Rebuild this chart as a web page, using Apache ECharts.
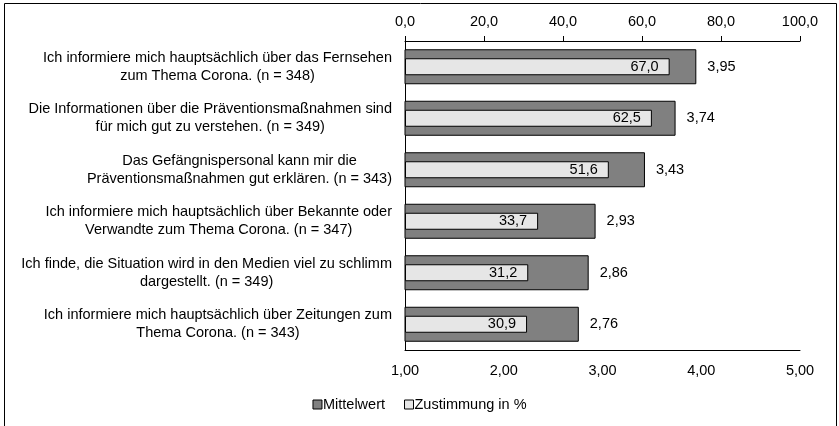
<!DOCTYPE html>
<html>
<head>
<meta charset="utf-8">
<script src="https://cdn.jsdelivr.net/npm/echarts@6/dist/echarts.min.js"></script>
<style>
  html, body { margin: 0; padding: 0; background: #fff; }
  #chart { width: 839px; height: 426px; }
</style>
</head>
<body>
<div id="chart"></div>
<script>
const categories = [
  'Ich informiere mich hauptsächlich über das Fernsehen\nzum Thema Corona. (n = 348)',
  'Die Informationen über die Präventionsmaßnahmen sind\nfür mich gut zu verstehen. (n = 349)',
  'Das Gefängnispersonal kann mir die\nPräventionsmaßnahmen gut erklären. (n = 343)',
  'Ich informiere mich hauptsächlich über Bekannte oder\nVerwandte zum Thema Corona. (n = 347)',
  'Ich finde, die Situation wird in den Medien viel zu schlimm\ndargestellt. (n = 349)',
  'Ich informiere mich hauptsächlich über Zeitungen zum\nThema Corona. (n = 343)'
];
const mittelwert = [3.95, 3.74, 3.43, 2.93, 2.86, 2.76];
const zustimmung = [67.0, 62.5, 51.6, 33.7, 31.2, 30.9];

const font = 'Liberation Sans, Arial, sans-serif';
const fs = 14.5;
const comma = (v, d) => v.toFixed(d).replace('.', ',');

const chart = echarts.init(document.getElementById('chart'), null, { renderer: 'canvas' });

const option = {
  animation: false,
  textStyle: { fontFamily: font, color: '#000' },
  graphic: [
    {
      type: 'rect',
      shape: { x: 4.5, y: 3.5, width: 832, height: 430 },
      style: { fill: 'none', stroke: '#000', lineWidth: 1 }
    }
  ],
  grid: { left: 405, right: 39, top: 41, bottom: 76 },
  legend: {
    bottom: 9,
    left: 'center',
    itemWidth: 9,
    itemHeight: 9,
    itemGap: 19,
    textStyle: { fontSize: fs, fontFamily: font, color: '#000', padding: [0, 0, 0, -4] },
    data: [
      { name: 'Mittelwert', icon: 'rect', itemStyle: { color: '#808080', borderColor: '#000', borderWidth: 1 } },
      { name: 'Zustimmung in %', icon: 'rect', itemStyle: { color: '#e6e6e6', borderColor: '#000', borderWidth: 1 } }
    ]
  },
  xAxis: [
    {
      type: 'value',
      position: 'bottom',
      min: 1,
      max: 5,
      interval: 1,
      axisLine: { show: true, lineStyle: { color: '#000' } },
      axisTick: { show: false },
      splitLine: { show: false },
      axisLabel: { fontSize: fs, color: '#000', margin: 13, formatter: v => comma(v, 2) }
    },
    {
      type: 'value',
      position: 'top',
      min: 0,
      max: 100,
      interval: 20,
      axisLine: { show: true, lineStyle: { color: '#000' } },
      axisTick: { show: true, inside: false, length: 5, lineStyle: { color: '#000' } },
      splitLine: { show: false },
      axisLabel: { fontSize: fs, color: '#000', margin: 12, formatter: v => comma(v, 1) }
    }
  ],
  yAxis: [
    {
      type: 'category',
      inverse: true,
      data: categories,
      axisLine: { show: true, lineStyle: { color: '#000' } },
      axisTick: { show: false },
      axisLabel: {
        margin: 13,
        align: 'right',
        lineHeight: 18,
        formatter: v => '{c|' + v + '}',
        rich: {
          c: { align: 'center', fontSize: fs, lineHeight: 18, fontFamily: font, color: '#000' }
        }
      }
    },
    {
      type: 'category',
      inverse: true,
      data: categories,
      show: false
    }
  ],
  series: [
    {
      name: 'Mittelwert',
      type: 'bar',
      xAxisIndex: 0,
      yAxisIndex: 0,
      data: mittelwert,
      barWidth: 35,
      itemStyle: { color: '#808080', borderColor: '#000', borderWidth: 1 },
      label: {
        show: true,
        position: 'right',
        distance: 11,
        fontSize: fs,
        fontFamily: font,
        color: '#000',
        formatter: p => comma(p.value, 2)
      }
    },
    {
      name: 'Zustimmung in %',
      type: 'bar',
      xAxisIndex: 1,
      yAxisIndex: 1,
      data: zustimmung,
      barWidth: 17,
      itemStyle: { color: '#e6e6e6', borderColor: '#000', borderWidth: 1 },
      label: {
        show: true,
        position: 'insideRight',
        distance: 11,
        fontSize: fs,
        fontFamily: font,
        color: '#000',
        formatter: p => comma(p.value, 1)
      }
    }
  ]
};

chart.setOption(option);
</script>
</body>
</html>
